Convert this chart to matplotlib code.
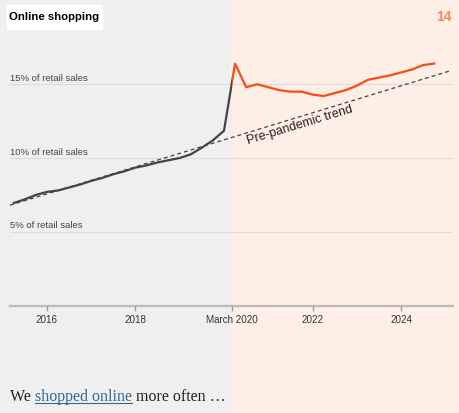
import matplotlib.pyplot as plt
from matplotlib.patches import Rectangle
from matplotlib.transforms import blended_transform_factory
from matplotlib.lines import Line2D
import numpy as np

# quarterly e-commerce share of retail sales (%)
quarters = [2015.25, 2015.5, 2015.75,
            2016.0, 2016.25, 2016.5, 2016.75,
            2017.0, 2017.25, 2017.5, 2017.75,
            2018.0, 2018.25, 2018.5, 2018.75,
            2019.0, 2019.25, 2019.5, 2019.75,
            2020.0, 2020.25, 2020.5, 2020.75,
            2021.0, 2021.25, 2021.5, 2021.75,
            2022.0, 2022.25, 2022.5, 2022.75,
            2023.0, 2023.25, 2023.5, 2023.75,
            2024.0, 2024.25, 2024.5, 2024.75]
share = [6.95, 7.2, 7.5,
         7.7, 7.8, 8.0, 8.2,
         8.45, 8.65, 8.9, 9.1,
         9.35, 9.5, 9.7, 9.85,
         10.0, 10.25, 10.7, 11.2,
         11.85, 16.4, 14.8, 15.0,
         14.8, 14.6, 14.5, 14.5,
         14.3, 14.2, 14.4, 14.6,
         14.9, 15.3, 15.45, 15.6,
         15.8, 16.0, 16.3, 16.4]

# pre-pandemic trend line end points
trend_x = [2015.16, 2025.1]
trend_y = [6.8, 15.9]

pandemic = 2020.17  # March 2020
tick_pos = [2016, 2018, pandemic, 2022, 2024]
tick_labels = ['2016', '2018', 'March 2020', '2022', '2024']
grid_vals = [5, 10, 15]

sans = ['Liberation Sans', 'DejaVu Sans']

fig = plt.figure(figsize=(4.59, 4.13), dpi=100)
ax = fig.add_axes([10 / 459, 1 - 305.5 / 413, 443 / 459, 265.5 / 413])
ax.set_facecolor('none')
ax.set_xlim(2015.164, 2025.175)
ax.set_ylim(0, 18)

# background panels over the whole figure
bt = blended_transform_factory(ax.transData, fig.transFigure)
ax.add_patch(Rectangle((2000, 0), pandemic - 2000, 1, transform=bt,
                       color='#efefef', clip_on=False, zorder=-5))
ax.add_patch(Rectangle((pandemic, 0), 2040 - pandemic, 1, transform=bt,
                       color='#fdeee6', clip_on=False, zorder=-5))

for v in grid_vals:
    ax.axhline(v, color='#dddddd', lw=0.8, zorder=1)
    ax.text(2015.164, v + 0.1, f'{v}% of retail sales', fontsize=6.8,
            color='#444444', va='bottom', ha='left', family=sans)
ax.axhline(0, color='#bbbbbb', lw=1.6, zorder=1, clip_on=False)

# trend
ax.plot(trend_x, trend_y, color='#444444', lw=0.9, dashes=(3.2, 2.4), zorder=3)
ang = np.degrees(np.arctan((trend_y[1] - trend_y[0]) / (trend_x[1] - trend_x[0])))
ax.text(2021.72, 12.2, 'Pre-pandemic trend', rotation=ang,
        transform_rotates_text=True, rotation_mode='anchor',
        ha='center', va='center', fontsize=9, color='#222222', family=sans)

# actual series: gray before March 2020, orange after
gray, = ax.plot(quarters, share, color='#444444', lw=1.6, zorder=4,
                solid_joinstyle='round')
red, = ax.plot(quarters, share, color='#fc4b14', lw=1.6, zorder=4,
               solid_joinstyle='round')
gray.set_clip_path(Rectangle((2000, -5), pandemic - 2000, 40, transform=ax.transData))
red.set_clip_path(Rectangle((pandemic, -5), 2040 - pandemic, 40, transform=ax.transData))

for s in ax.spines.values():
    s.set_visible(False)
ax.set_yticks([])
ax.set_xticks(tick_pos)
ax.set_xticklabels(tick_labels, family=sans)
ax.tick_params(axis='x', length=3.5, width=1, color='#999999', pad=3,
               labelsize=7.1, labelcolor='#333333')

# title and page number
fig.add_artist(Rectangle((7 / 459, 1 - 29 / 413), 95 / 459, 24 / 413,
                         transform=fig.transFigure, color='white'))
fig.text(54.5 / 459, 1 - 17.5 / 413, 'Online shopping', fontsize=8.2,
         fontweight='bold', color='black', va='center', ha='center', family=sans)
fig.text(452 / 459, 1 - 17 / 413, '14', fontsize=10, fontweight='bold',
         color='#f98a5c', va='center', ha='right', family=sans)

# caption with link-style words
serif = ['Liberation Serif', 'DejaVu Serif']
renderer = fig.canvas.get_renderer()
x0 = 10 / 459
yb = 1 - 401 / 413
parts = [('We ', '#222222', False), ('shopped online', '#326891', True),
         (' more often \u2026', '#222222', False)]
for txt, col, under in parts:
    t = fig.text(x0, yb, txt, fontsize=11.5, color=col, va='baseline',
                 ha='left', family=serif)
    bb = t.get_window_extent(renderer).transformed(fig.transFigure.inverted())
    if under:
        fig.add_artist(Line2D([x0, bb.x1], [yb - 2 / 413] * 2,
                              color=col, lw=0.8))
    x0 = bb.x1

fig.savefig('out.png', dpi=100)
